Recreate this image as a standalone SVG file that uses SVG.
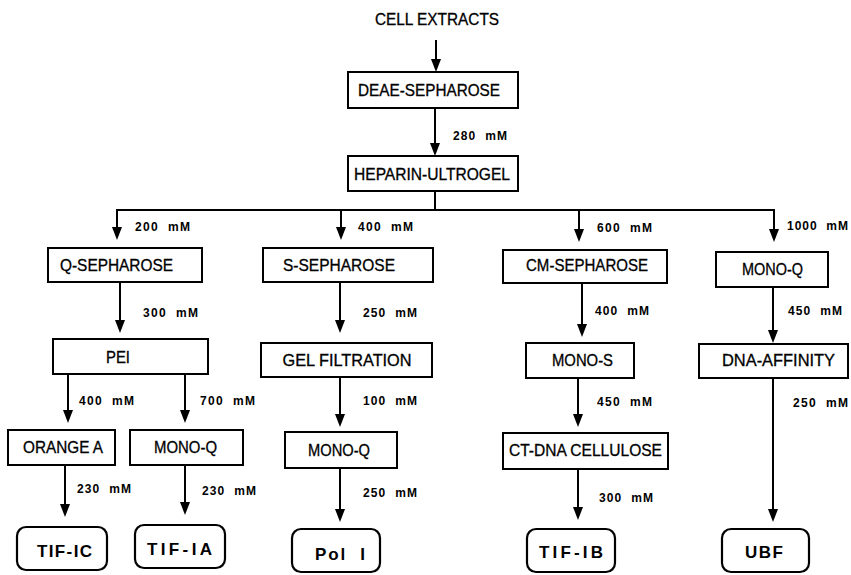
<svg xmlns="http://www.w3.org/2000/svg" width="851" height="575" viewBox="0 0 851 575">
<style>
.bx{fill:#fff;stroke:#000;stroke-width:2}
.tb{fill:#fff;stroke:#000;stroke-width:2.2}
.ln{fill:none;stroke:#000;stroke-width:2}
.lb{font-family:"Liberation Sans",Arial,sans-serif;font-size:16px;fill:#000;stroke:#000;stroke-width:0.3;text-anchor:middle}
.mm{font-family:"Liberation Sans",Arial,sans-serif;font-size:12px;font-weight:bold;fill:#000;white-space:pre}
.tm{font-family:"Liberation Sans",Arial,sans-serif;font-size:17px;font-weight:bold;fill:#000;text-anchor:middle;white-space:pre}
</style>
<defs>
<path id="ah" d="M-5,-13 L5,-13 L0,0 Z" fill="#000"/>
</defs>
<rect width="851" height="575" fill="#fff"/>

<g id="connectors">
<line class="ln" x1="436" y1="40" x2="436" y2="62"/><use href="#ah" x="436" y="72"/>
<line class="ln" x1="435" y1="108" x2="435" y2="146"/><use href="#ah" x="435" y="156"/>
<text class="mm" x="453" y="140" textLength="54">280  mM</text>
<line class="ln" x1="435" y1="191" x2="435" y2="210"/>
<line class="ln" x1="116" y1="210" x2="775" y2="210"/>
<line class="ln" x1="117" y1="210" x2="117" y2="230"/><use href="#ah" x="117" y="240"/>
<text class="mm" x="135" y="231" textLength="55">200  mM</text>
<line class="ln" x1="341" y1="210" x2="341" y2="230"/><use href="#ah" x="341" y="240"/>
<text class="mm" x="358" y="231" textLength="55">400  mM</text>
<line class="ln" x1="579" y1="210" x2="579" y2="232"/><use href="#ah" x="579" y="242"/>
<text class="mm" x="597" y="232" textLength="55">600  mM</text>
<line class="ln" x1="774" y1="210" x2="774" y2="232"/><use href="#ah" x="774" y="242"/>
<text class="mm" x="787" y="230" textLength="61">1000  mM</text>

<line class="ln" x1="120" y1="282" x2="120" y2="323"/><use href="#ah" x="120" y="333"/>
<text class="mm" x="143" y="317" textLength="55">300  mM</text>
<line class="ln" x1="340" y1="282" x2="340" y2="323"/><use href="#ah" x="340" y="333"/>
<text class="mm" x="363" y="317" textLength="54">250  mM</text>
<line class="ln" x1="582" y1="283" x2="582" y2="327"/><use href="#ah" x="582" y="337"/>
<text class="mm" x="595" y="315" textLength="54">400  mM</text>
<line class="ln" x1="773" y1="287" x2="773" y2="333"/><use href="#ah" x="773" y="343"/>
<text class="mm" x="788" y="315" textLength="54">450  mM</text>

<line class="ln" x1="68" y1="374" x2="68" y2="413"/><use href="#ah" x="68" y="423"/>
<text class="mm" x="79" y="405" textLength="55">400  mM</text>
<line class="ln" x1="185" y1="374" x2="185" y2="413"/><use href="#ah" x="185" y="423"/>
<text class="mm" x="200" y="405" textLength="55">700  mM</text>
<line class="ln" x1="340" y1="377" x2="340" y2="417"/><use href="#ah" x="340" y="427"/>
<text class="mm" x="363" y="405" textLength="54">100  mM</text>
<line class="ln" x1="578" y1="378" x2="578" y2="417"/><use href="#ah" x="578" y="427"/>
<text class="mm" x="597" y="406" textLength="55">450  mM</text>
<line class="ln" x1="773" y1="378" x2="773" y2="512"/><use href="#ah" x="773" y="522"/>
<text class="mm" x="793" y="407" textLength="55">250  mM</text>

<line class="ln" x1="65" y1="465" x2="65" y2="507"/><use href="#ah" x="65" y="517"/>
<text class="mm" x="77" y="493" textLength="54">230  mM</text>
<line class="ln" x1="185" y1="465" x2="185" y2="505"/><use href="#ah" x="185" y="515"/>
<text class="mm" x="202" y="495" textLength="54">230  mM</text>
<line class="ln" x1="340" y1="468" x2="340" y2="512"/><use href="#ah" x="340" y="522"/>
<text class="mm" x="363" y="497" textLength="54">250  mM</text>
<line class="ln" x1="578" y1="469" x2="578" y2="510"/><use href="#ah" x="578" y="520"/>
<text class="mm" x="599" y="502" textLength="54">300  mM</text>
</g>

<g id="cell-extracts"><text class="lb" x="437" y="25" textLength="124" lengthAdjust="spacingAndGlyphs">CELL EXTRACTS</text></g>
<g id="deae"><rect class="bx" x="348" y="72" width="170" height="36"/><text class="lb" x="429" y="96" textLength="142" lengthAdjust="spacingAndGlyphs">DEAE-SEPHAROSE</text></g>
<g id="heparin"><rect class="bx" x="348" y="156" width="170" height="35"/><text class="lb" x="432" y="180" textLength="156" lengthAdjust="spacingAndGlyphs">HEPARIN-ULTROGEL</text></g>

<g id="q-sepharose"><rect class="bx" x="48" y="248" width="154" height="34"/><text class="lb" x="116.5" y="271" textLength="113" lengthAdjust="spacingAndGlyphs">Q-SEPHAROSE</text></g>
<g id="s-sepharose"><rect class="bx" x="263" y="248" width="170" height="34"/><text class="lb" x="339" y="271" textLength="112" lengthAdjust="spacingAndGlyphs">S-SEPHAROSE</text></g>
<g id="cm-sepharose"><rect class="bx" x="503" y="250" width="164" height="33"/><text class="lb" x="587" y="271" textLength="122" lengthAdjust="spacingAndGlyphs">CM-SEPHAROSE</text></g>
<g id="mono-q-4"><rect class="bx" x="716" y="252" width="112" height="35"/><text class="lb" x="772.5" y="275" textLength="61" lengthAdjust="spacingAndGlyphs">MONO-Q</text></g>

<g id="pei"><rect class="bx" x="53" y="339" width="155" height="35"/><text class="lb" x="118" y="363" textLength="24" lengthAdjust="spacingAndGlyphs">PEI</text></g>
<g id="gel-filtration"><rect class="bx" x="261" y="343" width="171" height="34"/><text class="lb" x="347" y="366" textLength="129" lengthAdjust="spacingAndGlyphs">GEL FILTRATION</text></g>
<g id="mono-s"><rect class="bx" x="526" y="343" width="108" height="35"/><text class="lb" x="582.5" y="366" textLength="61" lengthAdjust="spacingAndGlyphs">MONO-S</text></g>
<g id="dna-affinity"><rect class="bx" x="699" y="344" width="149" height="34"/><text class="lb" x="778.5" y="366" textLength="113" lengthAdjust="spacingAndGlyphs">DNA-AFFINITY</text></g>

<g id="orange-a"><rect class="bx" x="8" y="430" width="107" height="35"/><text class="lb" x="63" y="453" textLength="80" lengthAdjust="spacingAndGlyphs">ORANGE A</text></g>
<g id="mono-q-1"><rect class="bx" x="130" y="430" width="113" height="35"/><text class="lb" x="185.5" y="453" textLength="63" lengthAdjust="spacingAndGlyphs">MONO-Q</text></g>
<g id="mono-q-2"><rect class="bx" x="285" y="432" width="112" height="36"/><text class="lb" x="339" y="456" textLength="62" lengthAdjust="spacingAndGlyphs">MONO-Q</text></g>
<g id="ct-dna"><rect class="bx" x="503" y="433" width="165" height="36"/><text class="lb" x="585.5" y="456" textLength="153" lengthAdjust="spacingAndGlyphs">CT-DNA CELLULOSE</text></g>

<g id="tif-ic"><rect class="tb" x="17" y="527" width="90" height="43" rx="9"/><text class="tm" x="64.5" y="557" textLength="55">TIF-IC</text></g>
<g id="tif-ia"><rect class="tb" x="135" y="525" width="90" height="43" rx="9"/><text class="tm" x="179.5" y="555" textLength="65">TIF-IA</text></g>
<g id="pol-i"><rect class="tb" x="292" y="529" width="88" height="43" rx="9"/><text class="tm" x="340" y="560" textLength="50">Pol  I</text></g>
<g id="tif-ib"><rect class="tb" x="527" y="529" width="88" height="43" rx="9"/><text class="tm" x="571" y="558" textLength="64">TIF-IB</text></g>
<g id="ubf"><rect class="tb" x="722" y="529" width="87" height="43" rx="9"/><text class="tm" x="764" y="558" textLength="38">UBF</text></g>
</svg>
